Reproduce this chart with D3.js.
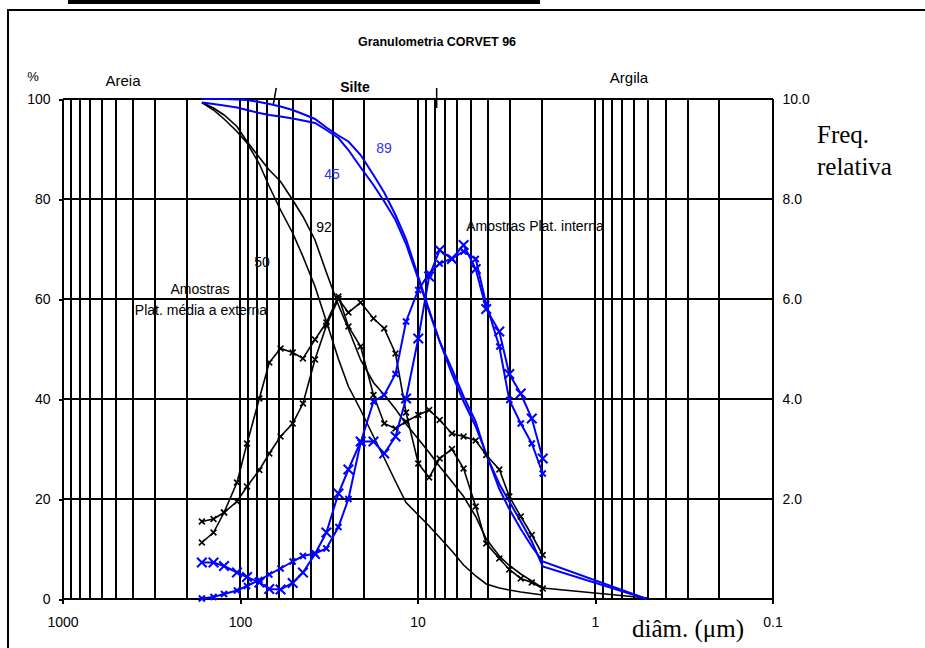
<!DOCTYPE html>
<html><head><meta charset="utf-8">
<script src="https://cdn.jsdelivr.net/npm/d3@7"></script>
<style>
html,body{margin:0;padding:0;background:#fff;}
svg{display:block;font-family:"Liberation Sans",Arial,sans-serif;}
</style></head>
<body><svg id="c" width="925" height="648"></svg>
<script>
// ---- data ----
const diam = [164, 141, 123, 104, 91.3, 77.8, 68.4, 59.1, 50.5, 44.2, 37.8, 32.6, 27.9, 24.5, 20.9, 17.7, 15.4, 13.3, 11.6, 9.9, 8.6, 7.5, 6.4, 5.5, 4.7, 4.1, 3.46, 3.04, 2.62, 2.27, 1.97];
const cumDiam = [164, 141, 123, 104, 91.3, 77.8, 68.4, 59.1, 50.5, 44.2, 37.8, 32.6, 27.9, 24.5, 20.9, 17.7, 15.4, 13.3, 11.6, 9.9, 8.6, 7.5, 6.4, 5.5, 4.7, 4.1, 3.46, 3.04, 2.62, 2.27, 1.97, 0.51];
// relative frequency (right axis)
const freqBlackA = [1.13, 1.33, 1.73, 2.33, 3.11, 4.01, 4.73, 5.01, 4.93, 4.81, 5.19, 5.53, 6.05, 5.45, 5.05, 4.08, 3.51, 3.41, 3.55, 3.68, 3.78, 3.58, 3.31, 3.25, 3.17, 2.88, 2.59, 2.05, 1.65, 1.28, 0.88];
const freqBlackB = [1.55, 1.60, 1.73, 1.95, 2.25, 2.58, 2.91, 3.25, 3.51, 3.91, 4.79, 5.47, 6.00, 5.73, 5.93, 5.61, 5.41, 4.91, 3.73, 2.71, 2.43, 2.81, 3.00, 2.61, 1.85, 1.11, 0.81, 0.59, 0.41, 0.33, 0.21];
const freqBlueA = [0.73, 0.73, 0.66, 0.53, 0.44, 0.33, 0.20, 0.19, 0.32, 0.53, 0.90, 1.33, 2.11, 2.59, 3.15, 3.15, 2.91, 3.25, 4.01, 5.21, 6.45, 6.98, 6.80, 7.08, 6.60, 5.80, 5.35, 4.50, 4.11, 3.61, 2.81];
const freqBlueB = [0.01, 0.04, 0.10, 0.17, 0.26, 0.38, 0.49, 0.61, 0.75, 0.86, 0.91, 1.01, 1.44, 2.00, 3.13, 3.95, 4.08, 4.50, 5.55, 6.18, 6.51, 6.71, 6.81, 6.95, 6.80, 5.90, 5.05, 3.98, 3.51, 3.11, 2.51];
// cumulative % (left axis)
const cum50 = [99.3, 97.8, 96.0, 93.5, 91.2, 87.0, 82.5, 77.8, 73.2, 68.5, 62.5, 55.5, 48.0, 42.5, 37.8, 32.5, 28.2, 23.5, 19.3, 16.8, 14.6, 12.3, 9.6, 6.8, 4.6, 3.0, 2.2, 1.8, 1.4, 1.1, 0.8, null];
const cum92 = [99.3, 98.2, 96.8, 94.5, 91.5, 88.3, 85.8, 83.5, 79.8, 76.5, 71.8, 65.3, 58.8, 54.0, 47.8, 43.3, 40.8, 38.0, 35.0, 32.0, 29.3, 26.5, 23.5, 20.5, 16.5, 12.0, 8.6, 6.7, 5.0, 3.6, 2.2, 0.2];
const cum45 = [99.3, 99.0, 98.7, 98.3, 97.8, 97.2, 96.8, 96.5, 96.1, 95.7, 95.2, 93.8, 92.2, 89.8, 86.3, 82.8, 79.5, 75.8, 71.0, 64.0, 57.5, 51.5, 45.0, 39.5, 34.5, 29.0, 22.0, 18.0, 14.0, 10.5, 7.5, 0];
const cum89 = [100, 100, 100, 99.9, 99.8, 99.4, 99.0, 98.5, 97.8, 97.0, 96.0, 94.3, 92.7, 91.5, 88.8, 84.8, 81.3, 76.8, 72.0, 64.5, 57.8, 51.5, 46.0, 40.5, 35.5, 28.8, 23.0, 19.5, 15.5, 11.5, 6.5, 0];
const xTicks = [1000, 100, 10, 1, 0.1];
const yTicksL = [0, 20, 40, 60, 80, 100];
const yTicksR = [2, 4, 6, 8, 10];
const boundaries = [62.5, 7.8];

// ---- drawing ----
const svg = d3.select("#c");
const L = 62.5, R = 772.5, T = 99, B = 599;
const x = d3.scaleLog().domain([1000, 0.1]).range([L, R]);
const yL = d3.scaleLinear().domain([0, 100]).range([B, T]);
const yR = d3.scaleLinear().domain([0, 10]).range([B, T]);

// outer frame + top bar
svg.append("rect").attr("x", 8).attr("y", 10).attr("width", 940).attr("height", 660)
  .attr("fill", "none").attr("stroke", "#000").attr("stroke-width", 2);
svg.append("rect").attr("x", 68).attr("y", 0).attr("width", 472).attr("height", 4).attr("fill", "#000");

// grid
const g = svg.append("g").attr("shape-rendering", "crispEdges");
g.selectAll("line.v").data(x.ticks()).join("line")
  .attr("x1", d => x(d)).attr("x2", d => x(d)).attr("y1", T).attr("y2", B)
  .attr("stroke", "#000").attr("stroke-width", 2);
g.selectAll("line.h").data(yTicksL).join("line")
  .attr("x1", L).attr("x2", R).attr("y1", d => yL(d)).attr("y2", d => yL(d))
  .attr("stroke", "#000").attr("stroke-width", 2);

// axes
const ax = svg.append("g").attr("transform", `translate(0,${B})`)
  .call(d3.axisBottom(x).tickValues(xTicks).tickFormat(d3.format("~g")).tickSize(5).tickPadding(13));
const ay = svg.append("g").attr("transform", `translate(${L},0)`)
  .call(d3.axisLeft(yL).tickValues(yTicksL).tickSize(4).tickPadding(8));
const ar = svg.append("g").attr("transform", `translate(${R},0)`)
  .call(d3.axisRight(yR).tickValues(yTicksR).tickFormat(d3.format(".1f")).tickSize(0).tickPadding(10));
[ax, ay, ar].forEach(a => {
  a.select(".domain").remove();
  a.selectAll("line").attr("stroke", "#000").attr("stroke-width", 2).attr("shape-rendering", "crispEdges");
  a.selectAll("text").attr("font-size", 14).attr("fill", "#000").attr("font-family", "Liberation Sans, Arial, sans-serif");
});

// silt boundaries
svg.append("line").attr("x1", x(boundaries[0])).attr("y1", 88).attr("x2", x(boundaries[0]) - 3).attr("y2", 105)
  .attr("stroke", "#000").attr("stroke-width", 1.5);
svg.append("line").attr("x1", x(boundaries[1])).attr("y1", 88).attr("x2", x(boundaries[1])).attr("y2", 108)
  .attr("stroke", "#000").attr("stroke-width", 1.5);

// curves
const lineL = d3.line().defined(d => d[1] != null).x(d => x(d[0])).y(d => yL(d[1]));
const lineR = d3.line().x(d => x(d[0])).y(d => yR(d[1]));
function cumCurve(vals, color, w) {
  svg.append("path").datum(cumDiam.map((d, i) => [d, vals[i]]))
    .attr("d", lineL).attr("fill", "none").attr("stroke", color).attr("stroke-width", w);
}
function freqCurve(vals, color, w, msize) {
  const pts = diam.map((d, i) => [d, vals[i]]);
  svg.append("path").datum(pts).attr("d", lineR).attr("fill", "none").attr("stroke", color).attr("stroke-width", w);
  svg.append("g").selectAll("path").data(pts).join("path")
    .attr("transform", d => `translate(${x(d[0])},${yR(d[1])})`)
    .attr("d", d3.symbol(d3.symbolTimes, msize))
    .attr("fill", "none").attr("stroke", color).attr("stroke-width", w);
}
cumCurve(cum50, "#000", 1.6);
cumCurve(cum92, "#000", 1.6);
cumCurve(cum45, "#0000ff", 2);
cumCurve(cum89, "#0000ff", 2);
freqCurve(freqBlackA, "#000", 1.6, 24);
freqCurve(freqBlackB, "#000", 1.6, 24);
freqCurve(freqBlueB, "#0000ff", 2, 26);
freqCurve(freqBlueA, "#0000ff", 2, 62);

// texts
function txt(s, xx, yy, opts = {}) {
  const t = svg.append("text").attr("x", xx).attr("y", yy).text(s)
    .attr("font-size", opts.size || 14).attr("fill", opts.fill || "#000")
    .attr("text-anchor", opts.anchor || "middle");
  if (opts.bold) t.attr("font-weight", "bold");
  if (opts.family) t.attr("font-family", opts.family);
  return t;
}
txt("Granulometria CORVET 96", 437, 46, {size: 12.5, bold: true});
txt("%", 33, 81, {size: 13});
txt("Areia", 123, 86, {size: 15});
txt("Silte", 355, 92, {size: 14, bold: true});
txt("Argila", 629, 83, {size: 15});
txt("50", 262, 267, {size: 14});
txt("92", 324, 232, {size: 14});
txt("45", 332, 179, {size: 14, fill: "#3333ee"});
txt("89", 384, 153, {size: 14, fill: "#3333ee"});
txt("Amostras", 200, 294, {size: 14});
txt("Plat. média a externa", 201, 315, {size: 14});
txt("Amostras Plat. interna", 535, 231, {size: 14});
const serif = "Liberation Serif, Times New Roman, serif";
txt("Freq.", 817, 143, {size: 25, anchor: "start", family: serif});
txt("relativa", 817, 175, {size: 25, anchor: "start", family: serif});
txt("diâm. (μm)", 688, 637, {size: 25, family: serif});
</script></body></html>
